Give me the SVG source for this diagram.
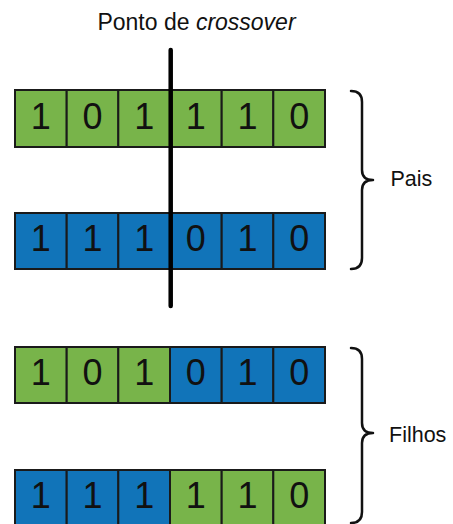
<svg xmlns="http://www.w3.org/2000/svg" width="453" height="524" viewBox="0 0 453 524">
  <style>
    .g { fill: #78b44a; }
    .b { fill: #1174b9; }
    .cell { stroke: #1a1a1a; stroke-width: 2; }
    .digit { font-family: "Liberation Sans", Arial, sans-serif; font-size: 36px; fill: #111; text-anchor: middle; }
    .label { font-family: "Liberation Sans", Arial, sans-serif; font-size: 21.5px; fill: #111; }
    .title { font-size: 23px; }
    .brace { fill: none; stroke: #111; stroke-width: 2.5; stroke-linecap: round; stroke-linejoin: round; }
  </style>
  <rect width="453" height="524" fill="#ffffff"/>

  <text class="label title" x="196.5" y="30" text-anchor="middle">Ponto de <tspan font-style="italic">crossover</tspan></text>

  <!-- parent 1 -->
  <g id="pai1">
    <rect class="cell g" x="15" y="90" width="51.7" height="57"/>
    <rect class="cell g" x="66.7" y="90" width="51.7" height="57"/>
    <rect class="cell g" x="118.3" y="90" width="51.7" height="57"/>
    <rect class="cell g" x="170" y="90" width="51.7" height="57"/>
    <rect class="cell g" x="221.7" y="90" width="51.7" height="57"/>
    <rect class="cell g" x="273.3" y="90" width="51.7" height="57"/>
    <text class="digit" x="40.8" y="129">1</text>
    <text class="digit" x="92.5" y="129">0</text>
    <text class="digit" x="144.2" y="129">1</text>
    <text class="digit" x="195.8" y="129">1</text>
    <text class="digit" x="247.5" y="129">1</text>
    <text class="digit" x="299.2" y="129">0</text>
  </g>

  <!-- parent 2 -->
  <g id="pai2">
    <rect class="cell b" x="15" y="213" width="51.7" height="56"/>
    <rect class="cell b" x="66.7" y="213" width="51.7" height="56"/>
    <rect class="cell b" x="118.3" y="213" width="51.7" height="56"/>
    <rect class="cell b" x="170" y="213" width="51.7" height="56"/>
    <rect class="cell b" x="221.7" y="213" width="51.7" height="56"/>
    <rect class="cell b" x="273.3" y="213" width="51.7" height="56"/>
    <text class="digit" x="40.8" y="251">1</text>
    <text class="digit" x="92.5" y="251">1</text>
    <text class="digit" x="144.2" y="251">1</text>
    <text class="digit" x="195.8" y="251">0</text>
    <text class="digit" x="247.5" y="251">1</text>
    <text class="digit" x="299.2" y="251">0</text>
  </g>

  <!-- child 1 -->
  <g id="filho1">
    <rect class="cell g" x="15" y="347" width="51.7" height="56"/>
    <rect class="cell g" x="66.7" y="347" width="51.7" height="56"/>
    <rect class="cell g" x="118.3" y="347" width="51.7" height="56"/>
    <rect class="cell b" x="170" y="347" width="51.7" height="56"/>
    <rect class="cell b" x="221.7" y="347" width="51.7" height="56"/>
    <rect class="cell b" x="273.3" y="347" width="51.7" height="56"/>
    <text class="digit" x="40.8" y="385">1</text>
    <text class="digit" x="92.5" y="385">0</text>
    <text class="digit" x="144.2" y="385">1</text>
    <text class="digit" x="195.8" y="385">0</text>
    <text class="digit" x="247.5" y="385">1</text>
    <text class="digit" x="299.2" y="385">0</text>
  </g>

  <!-- child 2 -->
  <g id="filho2">
    <rect class="cell b" x="15" y="470" width="51.7" height="56"/>
    <rect class="cell b" x="66.7" y="470" width="51.7" height="56"/>
    <rect class="cell b" x="118.3" y="470" width="51.7" height="56"/>
    <rect class="cell g" x="170" y="470" width="51.7" height="56"/>
    <rect class="cell g" x="221.7" y="470" width="51.7" height="56"/>
    <rect class="cell g" x="273.3" y="470" width="51.7" height="56"/>
    <text class="digit" x="40.8" y="508">1</text>
    <text class="digit" x="92.5" y="508">1</text>
    <text class="digit" x="144.2" y="508">1</text>
    <text class="digit" x="195.8" y="508">1</text>
    <text class="digit" x="247.5" y="508">1</text>
    <text class="digit" x="299.2" y="508">0</text>
  </g>

  <!-- crossover point line -->
  <g id="connectors">
    <line x1="170.7" y1="50" x2="170.7" y2="306" stroke="#000" stroke-width="4.5" stroke-linecap="round"/>
    <!-- braces -->
    <path class="brace" d="M351 91 Q362 91 362 102 L362 170 Q362 180 373 180 Q362 180 362 190 L362 258 Q362 269 351 269"/>
    <path class="brace" d="M351 348 Q362 348 362 359 L362 423 Q362 433 373 433 Q362 433 362 443 L362 512 Q362 523 351 523"/>
  </g>

  <text class="label" x="390.5" y="186">Pais</text>
  <text class="label" x="389" y="442">Filhos</text>
</svg>
